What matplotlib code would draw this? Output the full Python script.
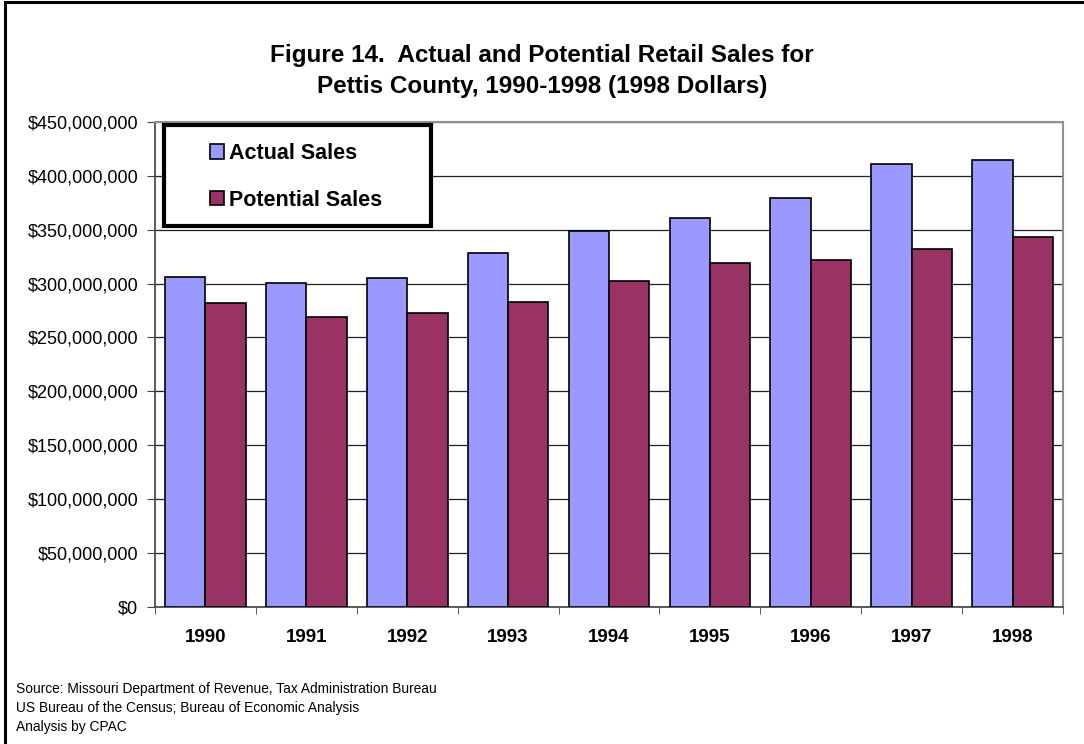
import numpy as np
import matplotlib
matplotlib.use('Agg')
import matplotlib.pyplot as plt
from matplotlib.patches import Rectangle
from matplotlib.ticker import FuncFormatter

# Retail sales, Pettis County (1998 dollars)
years = ['1990', '1991', '1992', '1993', '1994', '1995', '1996', '1997', '1998']
actual_sales = [306.4e6, 300.8e6, 304.9e6, 328.7e6, 349.1e6, 360.9e6, 379.2e6, 411.3e6, 414.7e6]
potential_sales = [282.2e6, 269.0e6, 272.7e6, 283.2e6, 302.7e6, 318.8e6, 321.9e6, 331.8e6, 343.5e6]
y_ticks = np.arange(0, 450e6 + 1, 50e6)

title = 'Figure 14.  Actual and Potential Retail Sales for\nPettis County, 1990-1998 (1998 Dollars)'
source_lines = ['Source: Missouri Department of Revenue, Tax Administration Bureau',
                'US Bureau of the Census; Bureau of Economic Analysis',
                'Analysis by CPAC']

plt.rcParams['font.family'] = ['Liberation Sans', 'DejaVu Sans']

W, H = 1084, 744
fig = plt.figure(figsize=(W/100, H/100), dpi=100)
ax = fig.add_axes([155/W, 1 - 606.7/H, (1063 - 155)/W, (606.7 - 122)/H])

x = np.arange(len(years))
w = 0.4
ax.bar(x - w/2, actual_sales, w, color='#9999FF', edgecolor='black', linewidth=1.2,
       label='Actual Sales', zorder=3)
ax.bar(x + w/2, potential_sales, w, color='#993366', edgecolor='black', linewidth=1.2,
       label='Potential Sales', zorder=3)

ax.set_xlim(-0.5, len(years) - 0.5)
ax.set_ylim(0, 450e6)
ax.set_yticks(y_ticks)
ax.yaxis.set_major_formatter(FuncFormatter(lambda v, p: '${:,.0f}'.format(v)))
ax.yaxis.grid(True, color='#202020', linewidth=0.9, zorder=0)
ax.set_xticks(x)
ax.set_xticklabels(years, fontweight='bold', fontsize=13.5)
ax.set_xticks(np.arange(len(years) + 1) - 0.5, minor=True)
ax.tick_params(axis='x', which='major', length=0, pad=16)
ax.tick_params(axis='x', which='minor', length=5, color='#404040', direction='out')
ax.tick_params(axis='y', labelsize=13, length=6, color='#404040', pad=6)

for side in ['top', 'right']:
    ax.spines[side].set_color('#909090')
    ax.spines[side].set_linewidth(1.5)
for side in ['left', 'bottom']:
    ax.spines[side].set_color('#404040')
    ax.spines[side].set_linewidth(1.2)

# legend: entries without frame, box drawn separately
leg = ax.legend(loc='upper left', bbox_to_anchor=((210 - 155)/908, 1 - (143 - 122)/484.7),
                prop={'weight': 'bold', 'size': 15.5}, frameon=False,
                borderpad=0, labelspacing=1.2, handlelength=0.65, handleheight=0.65,
                handletextpad=0.25, borderaxespad=0)
leg.set_zorder(6)
ax.add_patch(Rectangle((164/W, 1 - 226/H), (430.7 - 164)/W, (226 - 125)/H,
                       transform=fig.transFigure, facecolor='white', edgecolor='black',
                       linewidth=3, zorder=5, clip_on=False))

fig.text(0.5, 1 - 71/H, title, ha='center', va='center', fontsize=17.5,
         fontweight='bold', linespacing=1.42)

for i, line in enumerate(source_lines):
    fig.text(16/W, 1 - (689 + 19*i)/H, line, ha='left', va='center', fontsize=9.9)

# outer frame around the whole chart
fig.patches.append(Rectangle((5/W, -0.02), 1.2, 1 - 2/H + 0.02, transform=fig.transFigure,
                             fill=False, edgecolor='black', linewidth=2.2))

fig.savefig('out.png', dpi=100)
